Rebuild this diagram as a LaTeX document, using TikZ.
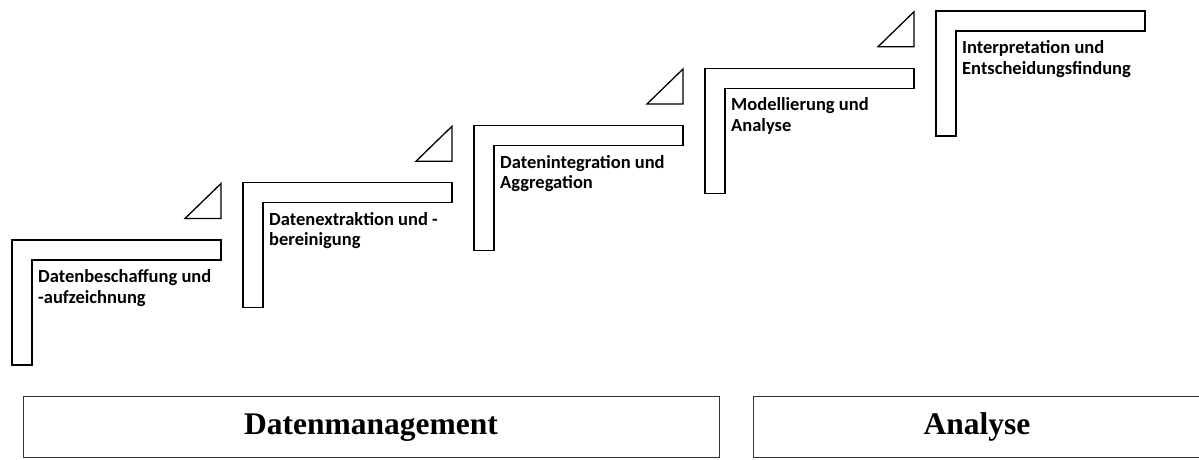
\documentclass[tikz,border=0pt]{standalone}
\usepackage{fontspec}
\setmainfont{Liberation Serif}
\newfontfamily\stepfont{Carlito}
\tikzset{
  stair/.style={draw=black, line width=1.3pt, fill=white, line join=miter},
  wedge/.style={draw=black, line width=1.3pt, fill=white},
  steplabel/.style={anchor=base west, align=left, inner sep=0pt,
    font=\stepfont\bfseries\fontsize{18.5}{20.5}\selectfont},
  phasebox/.style={draw=black!80, line width=1.5pt},
  phaselabel/.style={anchor=base, inner sep=0pt,
    font=\bfseries\fontsize{31.5}{36}\selectfont}
}
\begin{document}
\begin{tikzpicture}[x=1pt,y=-1pt]
\path[use as bounding box, clip] (0,0) rectangle (1199,459);

% five stairs, each an L-shaped bar with its caption
\foreach \i/\txt in {0/{Datenbeschaffung und\\-aufzeichnung},
                     1/{Datenextraktion und -\\bereinigung},
                     2/{Datenintegration und\\Aggregation},
                     3/{Modellierung und\\Analyse},
                     4/{Interpretation und\\Entscheidungsfindung}}{
  \pgfmathsetmacro{\L}{12+231*\i}
  \pgfmathsetmacro{\T}{240-57.25*\i}
  \draw[stair] (\L,\T) -- ++(209,0) -- ++(0,20) -- ++(-189,0)
               -- ++(0,105) -- ++(-20,0) -- cycle;
  % base of a two-line node is the baseline of its last line
  \node[steplabel] (step\i) at (\L+26,\T+63) {\txt};
}

% small wedges between the stairs
\foreach \i in {0,...,3}{
  \pgfmathsetmacro{\R}{221+231*\i}
  \pgfmathsetmacro{\B}{240-57.25*\i-21.5}
  \draw[wedge] (\R-36,\B) -- (\R,\B) -- (\R,\B-35) -- cycle;
}

% phase boxes
\draw[phasebox] (23.3,396.7) rectangle (719.3,457.7);
\draw[phasebox] (753.3,396.7) rectangle (1200.5,457.7);
\node[phaselabel] (dm) at (371,434) {Datenmanagement};
\node[phaselabel] (an) at (977,434) {Analyse};
\end{tikzpicture}
\end{document}
